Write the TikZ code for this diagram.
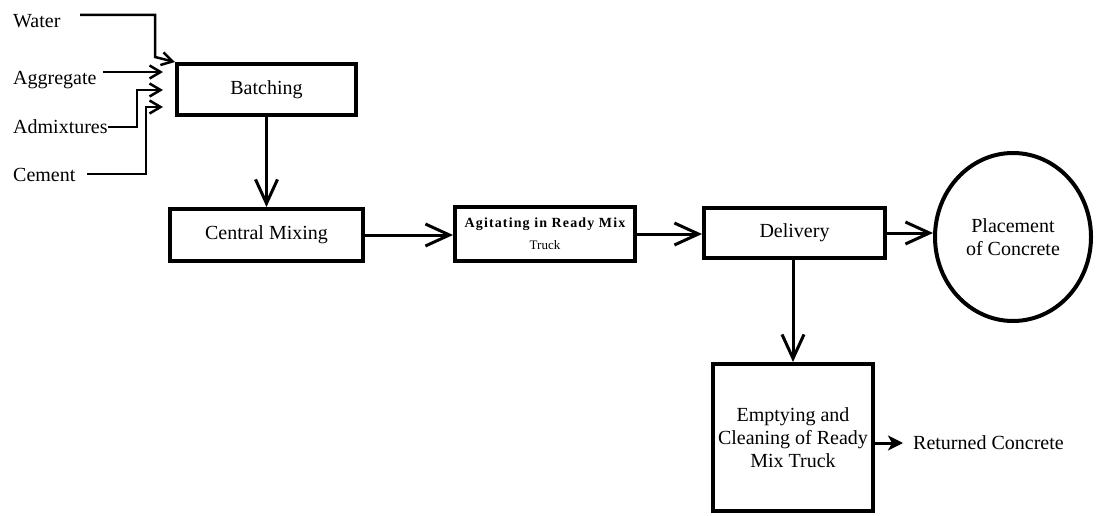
\documentclass[tikz,border=0pt]{standalone}
\usepackage{fontspec}
\setmainfont{Liberation Serif}
\newfontfamily\agfont{Liberation Serif}[LetterSpace=8]
\usetikzlibrary{arrows.meta,shapes.geometric,calc}
\begin{document}
\begin{tikzpicture}[x=1pt,y=-1pt,
  box/.style={draw,line width=4pt,inner sep=0pt,align=center,font=\fontsize{20}{23}\selectfont},
  lbl/.style={inner sep=0pt,font=\fontsize{20}{23}\selectfont},
  conn/.style={line width=3pt,-{Straight Barb[length=24pt,width=22pt]}},
  small/.style={line width=2.5pt,-{Straight Barb[length=11pt,width=13pt]}},
  retarrow/.style={line width=3pt,-{Stealth[length=15pt,width=15pt,inset=4pt]}},
]
\useasboundingbox (0,0) rectangle (1097,516);

% boxes
\node[box,minimum width=179pt,minimum height=51pt] (batch) at (266.5,89.5) {Batching};
\node[box,minimum width=193pt,minimum height=52pt] (central) at (266.5,235) {Central Mixing};
\node[box,minimum width=180pt,minimum height=54pt] (agit) at (545,234)
  {\agfont\bfseries\fontsize{14}{19}\selectfont Agitating in Ready Mix\\[-1pt]\mdseries\fontsize{13}{14}\selectfont Truck};
\node[box,minimum width=181pt,minimum height=50pt] (deliv) at (794.5,233) {Delivery};
\node[box,ellipse,minimum width=156pt,minimum height=168pt] (place) at (1013,237) {Placement\\of Concrete};
\node[box,minimum width=160pt,minimum height=147pt] (empty) at (793,437.5) {Emptying and\\Cleaning of Ready\\Mix Truck};

% labels
\node[lbl,anchor=base west] (water) at (13,28) {Water};
\node[lbl,anchor=base west] (aggr) at (13,85) {Aggregate};
\node[lbl,anchor=base west] (admix) at (13,133) {Admixtures};
\node[lbl,anchor=base west] (cement) at (13,181) {Cement};
\node[lbl,anchor=west] (ret) at (913,443) {Returned Concrete};

% input connector points
\coordinate (w0) at (80,15);
\coordinate (w1) at (155,57);
\coordinate (a0) at (103,72);
\coordinate (m0) at (admix.east |- 0,127);
\coordinate (m1) at (137,90);
\coordinate (c0) at (87,174);
\coordinate (c1) at (146,107);

\draw[small] (w0) -| (w1) -- (batch.north west);
\draw[small,shorten >=12pt] (a0) -- (a0 -| batch.west);
\draw[small,shorten >=12pt] (m0) -| (m1) -- (m1 -| batch.west);
\draw[small,shorten >=12pt] (c0) -| (c1) -- (c1 -| batch.west);

% main flow
\draw[conn] (batch) -- (central);
\draw[conn] (central.east) -- (central.east -| agit.west);
\draw[conn] (agit.east) -- (agit.east -| deliv.west);
\draw[conn] (deliv.east) -- (deliv.east -| place.west);
\draw[conn] (deliv.south -| empty.north) -- (empty.north);
\draw[retarrow,shorten >=10pt] (empty.east |- ret.west) -- (ret.west);
\end{tikzpicture}
\end{document}
